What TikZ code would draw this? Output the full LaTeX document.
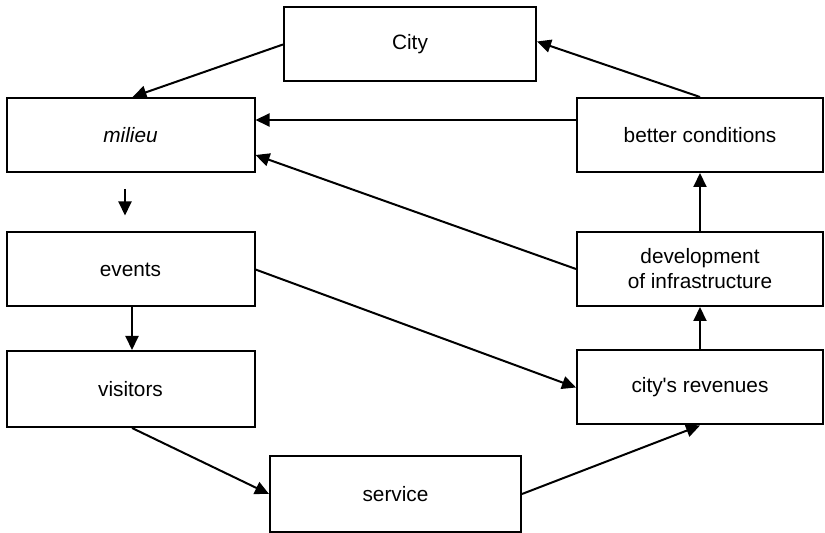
\documentclass[tikz,border=0pt]{standalone}
\usepackage{fontspec}
\setmainfont{Liberation Sans}[Ligatures=TeXOff]
\usetikzlibrary{arrows.meta}

\begin{document}
\begin{tikzpicture}[x=0.5pt,y=-0.5pt,
        box node/.style={draw,line width=1pt,rectangle,inner sep=0pt,
            minimum width=124pt,minimum height=37pt,align=center,
            font=\fontsize{10.4}{12.5}\selectfont},
        link/.style={line width=1pt,-{Triangle[length=7pt,width=6.5pt]}}]

        \useasboundingbox (0,0) rectangle (825,533);

        \node[box node, minimum width=126pt] (city)   at (410,44.5) {City};
        \node[box node] (milieu)   at (130.5,135)   {\itshape milieu};
        \node[box node] (events)   at (130.5,269.5) {events};
        \node[box node, minimum height=38pt] (visitors) at (130.5,389) {visitors};

        \node[box node, minimum width=123pt] (better)   at (700,135)   {better conditions};
        \node[box node, minimum width=123pt] (devel)    at (700,269)   {development\\of infrastructure};
        \node[box node, minimum width=123pt] (revenues) at (700,387.5) {city's revenues};
        \node[box node, minimum width=125.5pt, minimum height=38pt] (service) at (395.5,494) {service};

        \path
            (city.west) edge [link] ([xshift=1pt]milieu.north)
            (better.north) edge [link] ([yshift=1.5pt]city.east)
            ([yshift=7.5pt]better.west) edge [link] ([yshift=7.5pt]milieu.east)
            (devel.west) edge [link] ([yshift=-10pt]milieu.east)
            ([xshift=-2.75pt,yshift=-8pt]milieu.south) edge [link] ([xshift=-2.75pt,yshift=8pt]events.north)
            ([xshift=0.75pt]events.south) edge [link] ([xshift=0.75pt]visitors.north)
            (events.east) edge [link] (revenues.west)
            ([xshift=0.75pt]visitors.south) edge [link] (service.west)
            (service.east) edge [link] (revenues.south)
            (revenues.north) edge [link] (devel.south)
            (devel.north) edge [link] (better.south);
    \end{tikzpicture}
\end{document}
